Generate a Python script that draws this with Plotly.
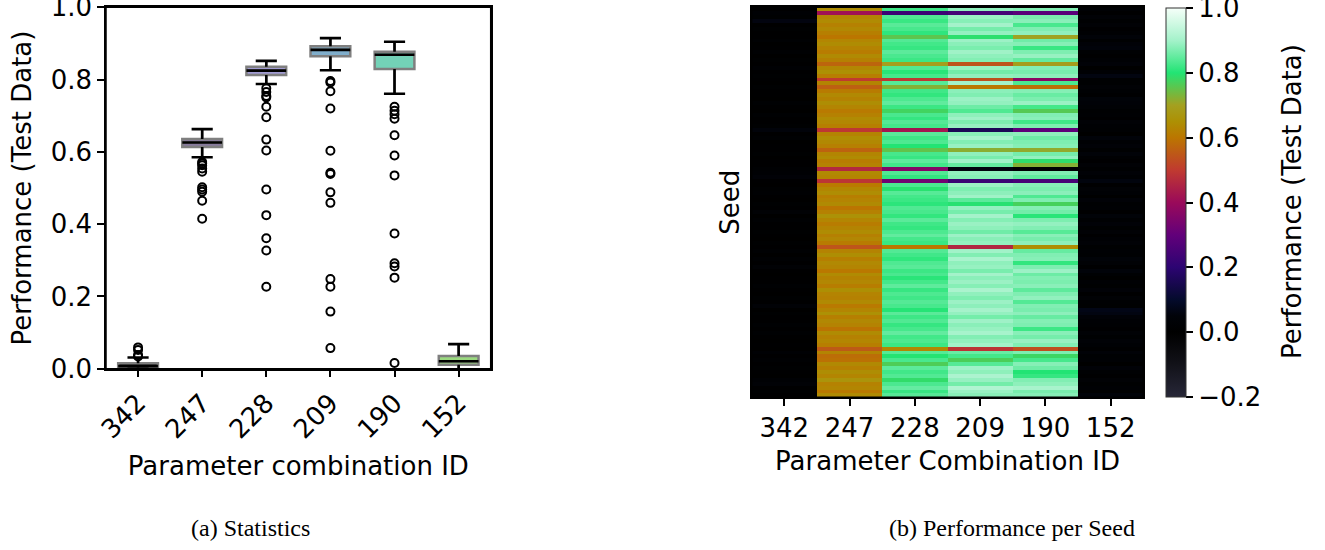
import numpy as np
import plotly.graph_objects as go

# Parameter combinations (columns) and per-seed test performance (100 seeds each)
param_ids = ["342", "247", "228", "209", "190", "152"]

perf_342 = [
    0.004, 0.021, 0.012, 0.059, 0.000, 0.012, 0.003, 0.008, 0.017, 0.002,
    0.007, 0.018, 0.001, 0.009, 0.005, 0.020, 0.003, 0.011, 0.006, 0.000,
    0.013, 0.004, 0.008, 0.002, 0.016, 0.007, 0.001, 0.016, 0.005, 0.003,
    0.009, 0.052, 0.006, 0.015, 0.002, 0.008, 0.004, 0.012, 0.000, 0.007,
    0.003, 0.018, 0.024, 0.038, 0.005, 0.001, 0.009, 0.019, 0.006, 0.002,
    0.011, 0.004, 0.026, 0.000, 0.016, 0.003, 0.007, 0.012, 0.005, 0.001,
    0.009, 0.006, 0.019, 0.002, 0.017, 0.004, 0.028, 0.007, 0.000, 0.008,
    0.003, 0.015, 0.006, 0.002, 0.011, 0.005, 0.034, 0.001, 0.009, 0.004,
    0.007, 0.017, 0.003, 0.015, 0.006, 0.000, 0.008, 0.002, 0.023, 0.005,
    0.016, 0.004, 0.009, 0.007, 0.001, 0.022, 0.031, 0.003, 0.009, 0.006,
]

perf_247 = [
    0.645, 0.415, 0.628, 0.640, 0.622, 0.635, 0.618, 0.600, 0.630, 0.642,
    0.625, 0.612, 0.638, 0.620, 0.572, 0.633, 0.650, 0.615, 0.502, 0.627,
    0.563, 0.610, 0.636, 0.624, 0.645, 0.629, 0.608, 0.621, 0.640, 0.632,
    0.617, 0.496, 0.626, 0.648, 0.634, 0.619, 0.568, 0.629, 0.641, 0.614,
    0.623, 0.465, 0.637, 0.628, 0.490, 0.605, 0.631, 0.644, 0.616, 0.626,
    0.639, 0.598, 0.622, 0.655, 0.630, 0.611, 0.627, 0.643, 0.620, 0.633,
    0.609, 0.545, 0.625, 0.646, 0.618, 0.636, 0.628, 0.603, 0.640, 0.624,
    0.632, 0.613, 0.649, 0.626, 0.621, 0.638, 0.607, 0.629, 0.652, 0.617,
    0.634, 0.625, 0.595, 0.641, 0.622, 0.630, 0.615, 0.554, 0.627, 0.585,
    0.592, 0.637, 0.619, 0.645, 0.628, 0.663, 0.623, 0.631, 0.606, 0.639,
]

perf_228 = [
    0.822, 0.227, 0.835, 0.818, 0.842, 0.829, 0.810, 0.755, 0.838, 0.825,
    0.816, 0.845, 0.831, 0.820, 0.696, 0.836, 0.805, 0.827, 0.496, 0.840,
    0.725, 0.823, 0.812, 0.833, 0.848, 0.819, 0.776, 0.830, 0.815, 0.839,
    0.826, 0.425, 0.843, 0.821, 0.834, 0.800, 0.751, 0.828, 0.817, 0.846,
    0.824, 0.361, 0.837, 0.813, 0.327, 0.832, 0.795, 0.841, 0.826, 0.819,
    0.808, 0.836, 0.829, 0.812, 0.844, 0.822, 0.814, 0.833, 0.849, 0.827,
    0.818, 0.604, 0.838, 0.824, 0.811, 0.835, 0.842, 0.820, 0.831, 0.806,
    0.826, 0.847, 0.816, 0.834, 0.823, 0.839, 0.829, 0.802, 0.843, 0.821,
    0.836, 0.815, 0.828, 0.850, 0.825, 0.833, 0.819, 0.634, 0.840, 0.798,
    0.830, 0.766, 0.845, 0.824, 0.837, 0.788, 0.832, 0.852, 0.817, 0.841,
]

perf_209 = [
    0.885, 0.248, 0.892, 0.878, 0.900, 0.864, 0.888, 0.792, 0.895, 0.880,
    0.868, 0.897, 0.884, 0.875, 0.542, 0.890, 0.862, 0.886, 0.539, 0.899,
    0.603, 0.881, 0.872, 0.894, 0.887, 0.858, 0.835, 0.883, 0.896, 0.869,
    0.889, 0.158, 0.879, 0.903, 0.874, 0.891, 0.720, 0.884, 0.866, 0.898,
    0.850, 0.057, 0.886, 0.877, 0.227, 0.893, 0.871, 0.882, 0.897, 0.845,
    0.796, 0.888, 0.865, 0.901, 0.876, 0.892, 0.883, 0.860, 0.895, 0.879,
    0.887, 0.459, 0.898, 0.873, 0.906, 0.884, 0.890, 0.867, 0.900, 0.881,
    0.893, 0.877, 0.908, 0.885, 0.871, 0.894, 0.882, 0.902, 0.888, 0.863,
    0.896, 0.880, 0.890, 0.904, 0.874, 0.886, 0.899, 0.488, 0.855, 0.826,
    0.768, 0.840, 0.897, 0.883, 0.910, 0.889, 0.862, 0.915, 0.891, 0.879,
]

perf_190 = [
    0.875, 0.283, 0.868, 0.880, 0.830, 0.872, 0.885, 0.704, 0.860, 0.877,
    0.818, 0.871, 0.890, 0.850, 0.692, 0.874, 0.866, 0.882, 0.374, 0.832,
    0.590, 0.876, 0.855, 0.869, 0.893, 0.826, 0.761, 0.873, 0.879, 0.822,
    0.870, 0.292, 0.884, 0.858, 0.871, 0.877, 0.714, 0.864, 0.887, 0.790,
    0.725, 0.016, 0.874, 0.848, 0.252, 0.878, 0.869, 0.881, 0.835, 0.872,
    0.772, 0.876, 0.862, 0.805, 0.870, 0.888, 0.874, 0.841, 0.879, 0.866,
    0.883, 0.646, 0.852, 0.873, 0.878, 0.812, 0.871, 0.895, 0.857, 0.875,
    0.869, 0.880, 0.846, 0.872, 0.886, 0.838, 0.873, 0.867, 0.882, 0.853,
    0.876, 0.871, 0.820, 0.879, 0.864, 0.891, 0.874, 0.535, 0.870, 0.780,
    0.828, 0.877, 0.859, 0.800, 0.815, 0.873, 0.883, 0.905, 0.866, 0.878,
]

perf_152 = [
    0.020, 0.008, 0.035, 0.012, 0.027, 0.004, 0.018, 0.045, 0.010, 0.040,
    0.052, 0.015, 0.006, 0.024, 0.038, 0.001, 0.022, 0.060, 0.013, 0.009,
    0.028, 0.017, 0.003, 0.043, 0.041, 0.025, 0.011, 0.019, 0.007, 0.036,
    0.023, 0.014, 0.002, 0.048, 0.021, 0.037, 0.010, 0.042, 0.016, 0.005,
    0.026, 0.012, 0.034, 0.019, 0.055, 0.008, 0.029, 0.022, 0.000, 0.037,
    0.015, 0.024, 0.006, 0.046, 0.018, 0.040, 0.011, 0.027, 0.003, 0.021,
    0.035, 0.009, 0.020, 0.014, 0.044, 0.025, 0.007, 0.050, 0.017, 0.001,
    0.023, 0.013, 0.038, 0.005, 0.028, 0.019, 0.010, 0.068, 0.062, 0.039,
    0.022, 0.016, 0.004, 0.026, 0.012, 0.036, 0.021, 0.008, 0.041, 0.015,
    0.024, 0.002, 0.039, 0.018, 0.006, 0.029, 0.011, 0.022, -0.004, 0.047,
]

box_colors = ["#232323", "#877a9c", "#a19bd2", "#80aecb", "#73d2b7", "#9ad87f"]

# Colour map for the per-seed heatmap (value -> colour)
cmap_values = [-0.2, -0.1, 0.0, 0.05, 0.1, 0.2, 0.3, 0.4, 0.5, 0.6, 0.65, 0.7, 0.8, 0.9, 1.0]
cmap_colors = ["#272738", "#121219", "#000000", "#010309", "#040b2c", "#2c0472",
               "#62007a", "#9a0a5a", "#c03a30", "#bb7600", "#ad9004", "#a4a020",
               "#22e474", "#a4f2ca", "#f6fff9"]
ZMIN, ZMAX = -0.2, 1.0
colorscale = [[(v - ZMIN) / (ZMAX - ZMIN), c] for v, c in zip(cmap_values, cmap_colors)]

columns = [perf_342, perf_247, perf_228, perf_209, perf_190, perf_152]
FONT = "DejaVu Sans"
FS = 26

fig = go.Figure()

# ---- (a) box plot statistics ----
positions = list(range(len(param_ids)))
BOX_W = 0.62
CAP_W = 0.33
wx, wy, mx, my, ox, oy = [], [], [], [], [], []
for pos, vals, col in zip(positions, columns, box_colors):
    v = np.asarray(vals, dtype=float)
    q1, med, q3 = np.percentile(v, [25, 50, 75])
    iqr = q3 - q1
    lo_lim, hi_lim = q1 - 1.5 * iqr, q3 + 1.5 * iqr
    lo = v[v >= lo_lim].min()
    hi = v[v <= hi_lim].max()
    fig.add_trace(go.Box(
        x=[pos], q1=[q1], median=[med], q3=[q3], lowerfence=[lo], upperfence=[hi],
        width=BOX_W, fillcolor=col, line=dict(color="#7f7f7f", width=2.5),
        whiskerwidth=0, boxpoints=False, showlegend=False, hoverinfo="skip",
        xaxis="x", yaxis="y"))
    for a, b in ((q3, hi), (q1, lo)):
        wx += [pos, pos, None, pos - CAP_W / 2, pos + CAP_W / 2, None]
        wy += [a, b, None, b, b, None]
    mx += [pos - BOX_W / 2, pos + BOX_W / 2, None]
    my += [med, med, None]
    outl = v[(v < lo_lim) | (v > hi_lim)]
    ox += [pos] * len(outl)
    oy += outl.tolist()

fig.add_trace(go.Scatter(x=wx, y=wy, mode="lines", line=dict(color="black", width=2.6),
                         showlegend=False, hoverinfo="skip", xaxis="x", yaxis="y"))
fig.add_trace(go.Scatter(x=mx, y=my, mode="lines", line=dict(color="black", width=2.6),
                         showlegend=False, hoverinfo="skip", xaxis="x", yaxis="y"))
fig.add_trace(go.Scatter(x=ox, y=oy, mode="markers",
                         marker=dict(symbol="circle-open", size=8, color="black",
                                     line=dict(width=2, color="black")),
                         showlegend=False, xaxis="x", yaxis="y"))

# ---- (b) performance per seed heatmap ----
z = np.column_stack(columns)
seeds = list(range(z.shape[0]))
fig.add_trace(go.Heatmap(
    z=z, x=param_ids, y=seeds, xaxis="x2", yaxis="y2",
    colorscale=colorscale, zmin=ZMIN, zmax=ZMAX,
    colorbar=dict(
        x=1166 / 1325, xanchor="left", xpad=0, y=1 - 202.5 / 550, yanchor="middle",
        ypad=0, len=389, lenmode="pixels", thickness=20, thicknessmode="pixels",
        outlinewidth=1, outlinecolor="#333333",
        ticks="outside", ticklen=7, tickwidth=1.5, tickcolor="black",
        tickvals=[-0.2, 0.0, 0.2, 0.4, 0.6, 0.8, 1.0], tickformat=".1f",
        ticklabeloverflow="allow",
        tickfont=dict(family=FONT, size=FS, color="black"),
    ),
))

axis_common = dict(showgrid=False, zeroline=False, showline=True, mirror=True,
                   linecolor="black", linewidth=1.5, ticklen=7,
                   tickwidth=1.5, tickcolor="black", ticklabeloverflow="allow",
                   tickfont=dict(family=FONT, size=FS, color="black"))

# frames around both panels
frames = [
    dict(type="rect", xref=f"{xa} domain", yref=f"{ya} domain", x0=0, x1=1, y0=0, y1=1,
         line=dict(color="black", width=1.5), fillcolor="rgba(0,0,0,0)", layer="above")
    for xa, ya in (("x", "y"), ("x2", "y2"))
]

fig.update_layout(
    width=1325, height=550,
    margin=dict(l=0, r=0, t=0, b=0),
    paper_bgcolor="white", plot_bgcolor="white",
    font=dict(family=FONT, size=FS, color="black"),
    xaxis=dict(domain=[106 / 1325, 490.7 / 1325], anchor="y", range=[-0.5, 5.5],
               tickvals=positions, ticktext=param_ids, tickangle=-45, ticks="outside",
               title=dict(text="Parameter combination ID", standoff=14,
                          font=dict(family=FONT, size=FS)),
               automargin=False, **axis_common),
    yaxis=dict(domain=[1 - 368.7 / 550, 1 - 7.3 / 550], anchor="x", range=[0, 1.0002],
               tickvals=[0, 0.2, 0.4, 0.6, 0.8, 1.0], tickformat=".1f", ticks="outside",
               title=dict(text="Performance (Test Data)", standoff=12,
                          font=dict(family=FONT, size=FS)),
               automargin=False, **axis_common),
    xaxis2=dict(domain=[751.7 / 1325, 1143.3 / 1325], anchor="y2", type="category",
                ticks="outside",
                title=dict(text="Parameter Combination ID", standoff=10,
                           font=dict(family=FONT, size=FS)),
                automargin=False, **axis_common),
    yaxis2=dict(domain=[1 - 397.3 / 550, 1 - 7.3 / 550], anchor="x2",
                autorange="reversed", showticklabels=False, ticks="",
                title=dict(text="Seed", standoff=3, font=dict(family=FONT, size=FS)),
                automargin=False, **axis_common),
    shapes=frames,
    annotations=[
        dict(text="Performance (Test Data)", x=1292 / 1325, y=1 - 202 / 550,
             xref="paper", yref="paper", showarrow=False, textangle=-90,
             xanchor="center", yanchor="middle",
             font=dict(family=FONT, size=FS, color="black")),
        dict(text="(a) Statistics", x=250 / 1325, y=1 - 528 / 550, xref="paper",
             yref="paper", showarrow=False, xanchor="center", yanchor="middle",
             font=dict(family="Liberation Serif", size=24, color="black")),
        dict(text="(b) Performance per Seed", x=1012 / 1325, y=1 - 528 / 550,
             xref="paper", yref="paper", showarrow=False, xanchor="center",
             yanchor="middle",
             font=dict(family="Liberation Serif", size=24, color="black")),
    ],
)

fig.write_html("out.html")
